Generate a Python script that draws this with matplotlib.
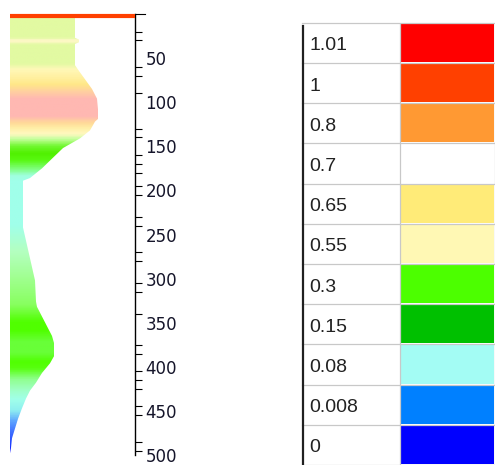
import numpy as np
import matplotlib
matplotlib.use("Agg")
import matplotlib.pyplot as plt
from matplotlib.colors import LinearSegmentedColormap
from matplotlib.patches import Rectangle

# ---- profile data (depth vs value) ----
depths = [0, 27, 29, 32, 34, 58, 63, 74, 85, 96, 108, 119, 122, 132, 141, 152,
          164, 175, 186, 189, 242, 302, 326, 332, 343, 354, 365, 373, 388, 396,
          407, 418, 427, 436, 447, 459, 470, 481, 492, 498]
values = [0.65, 0.65, 0.69, 0.69, 0.65, 0.65, 0.68, 0.75, 0.82, 0.87, 0.88, 0.88,
          0.85, 0.80, 0.70, 0.53, 0.42, 0.32, 0.20, 0.13, 0.13, 0.25, 0.26, 0.27,
          0.32, 0.37, 0.42, 0.44, 0.44, 0.40, 0.32, 0.26, 0.20, 0.16, 0.12, 0.08,
          0.05, 0.02, 0.01, 0.0]

# colour of the profile along depth
color_depths = [0, 27, 29, 32, 34, 56, 63, 72, 80, 88, 96, 116, 124, 130, 136,
                142, 150, 158, 166, 176, 184, 190, 240, 270, 300, 330, 350, 360,
                372, 385, 395, 403, 415, 428, 438, 450, 462, 475, 490, 500]
fill_colors = ['#E2FAA2', '#E2FAA2', '#FCF8C4', '#FCF8C4', '#E2FAA2', '#E2FAA2',
               '#FFF8B8', '#FFF0A0', '#FFE888', '#FFD0A0', '#FFB8B2', '#FFB8B2',
               '#FFDA98', '#FFF0A8', '#FFF8C0', '#C8FFA0', '#70F830', '#50F000',
               '#58F810', '#80FF80', '#A0FFE0', '#A0FFEA', '#A0FFEA', '#B4FFC0',
               '#A0FF90', '#88FF60', '#50FF00', '#50FF00', '#68FF38', '#68FF38',
               '#50FF00', '#58FF10', '#90FF90', '#A0FFC8', '#A0FFEA', '#90F0F0',
               '#60A8FF', '#4070FF', '#2040FF', '#0000FF']

# axis ticks
major_ticks = [50, 100, 150, 200, 250, 300, 350, 400, 450, 500]
minor_ticks = [20, 30, 60, 70, 90, 130, 140, 160, 170, 180, 195, 205, 230, 240,
               250, 270, 280, 305, 315, 340, 375, 385, 405, 415, 425, 445, 455,
               485, 495, 500]

# legend table
legend_labels = ['1.01', '1', '0.8', '0.7', '0.65', '0.55', '0.3', '0.15',
                 '0.08', '0.008', '0']
legend_colors = ['#FF0000', '#FF4000', '#FF9933', '#FFFFFF', '#FFEB78', '#FFF8B4',
                 '#4CFF00', '#00C000', '#A3FCF4', '#0080FF', '#0000FF']

W, H = 495, 465
fig = plt.figure(figsize=(W / 100, H / 100), dpi=100)

XMAX = 1.25
ax = fig.add_axes([10 / W, 1 - 455 / H, 125 / W, 441 / H])
ax.set_xlim(0, XMAX)
ax.set_ylim(500, 0)

# gradient fill clipped to profile
cmap = LinearSegmentedColormap.from_list(
    'prof', list(zip(np.array(color_depths) / 500.0, fill_colors)))
grad = np.linspace(0, 1, 1000).reshape(-1, 1)
im = ax.imshow(grad, cmap=cmap, extent=[0, XMAX, 500, 0], aspect='auto',
               interpolation='bilinear', zorder=1)
poly = ax.fill_betweenx(depths, 0, values, facecolor='none', edgecolor='none')
im.set_clip_path(poly.get_paths()[0], transform=ax.transData)

# top red line
ax.plot([0, XMAX], [2, 2], color='#FF4000', lw=3, solid_capstyle='butt',
        clip_on=False, zorder=3)
# top tick
ax.plot([XMAX, XMAX * 1.08], [0, 0], color='black', lw=0.8, clip_on=False)

for s in ['left', 'top', 'bottom']:
    ax.spines[s].set_visible(False)
ax.spines['right'].set_linewidth(1.0)
ax.spines['right'].set_color('black')
ax.tick_params(axis='x', bottom=False, labelbottom=False)
ax.yaxis.tick_right()
ax.set_yticks(major_ticks)
ax.set_yticklabels([str(t) for t in major_ticks])
ax.set_yticks(minor_ticks, minor=True)
ax.tick_params(axis='y', which='major', length=0, pad=7.5, labelsize=12,
               labelcolor='#15152a')
ax.tick_params(axis='y', which='minor', length=5, width=0.8, color='black',
               direction='out')
for lab in ax.get_yticklabels():
    lab.set_family('DejaVu Sans')

# legend table
top_px = 22.7
tab_h = H - top_px
tax = fig.add_axes([302 / W, 0, 193 / W, tab_h / H])
tax.set_xlim(0, 193)
tax.set_ylim(tab_h, 0)
tax.axis('off')
n = len(legend_labels)
row_h = tab_h / n
for i, (lab, col) in enumerate(zip(legend_labels, legend_colors)):
    top = i * row_h
    tax.add_patch(Rectangle((98, top + 1), 94, row_h - 2, facecolor=col,
                            edgecolor='none', zorder=1))
    tax.text(7.5, top + row_h / 2 + 7.5, lab, fontsize=14,
             family='Liberation Sans', color='#222222', va='baseline',
             ha='left')
for i in range(n + 1):
    tax.plot([0, 193], [i * row_h, i * row_h], color='#C8C8C8', lw=0.9,
             zorder=2, clip_on=False)
tax.plot([97.5, 97.5], [0, tab_h], color='#C8C8C8', lw=0.9, zorder=2)
tax.plot([192.5, 192.5], [0, tab_h], color='#C8C8C8', lw=0.9, zorder=2)
tax.plot([1, 1], [3, tab_h], color='#202020', lw=1.6, zorder=3, clip_on=False)

fig.savefig('out.png', dpi=100)
